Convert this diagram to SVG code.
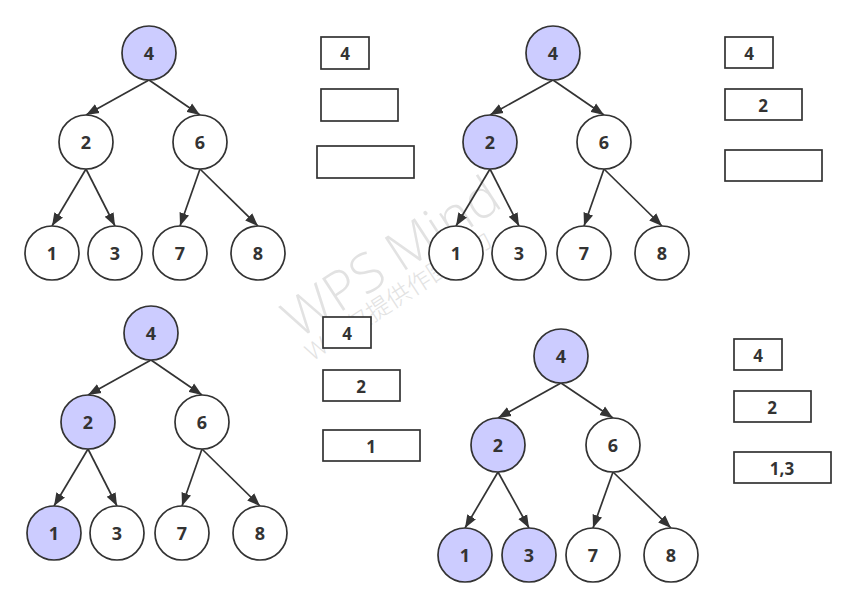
<svg xmlns="http://www.w3.org/2000/svg" width="856" height="608" viewBox="0 0 856 608">
<style>
.n circle{fill:#ffffff;stroke:#333333;stroke-width:1.7}
.n.h circle{fill:#ccccff}
.n text,.b text{font-family:"Open Sans","Noto Sans","Liberation Sans",sans-serif;font-weight:bold;font-size:18px;fill:#333333;text-anchor:middle;dominant-baseline:central}
.b rect{fill:#ffffff;stroke:#333333;stroke-width:1.7}
.b text{font-size:17px}
.e line{stroke:#333333;stroke-width:1.7;marker-end:url(#ah)}
.wm{font-family:"Open Sans","Noto Sans CJK SC",sans-serif;font-weight:300;fill:#e2e2e2}
</style>
<defs>
<marker id="ah" markerUnits="userSpaceOnUse" markerWidth="14" markerHeight="11" refX="13" refY="5" orient="auto" viewBox="0 0 14 10">
<path d="M0,0 L13,5 L0,10 z" fill="#333333"/>
</marker>
</defs>
<rect width="856" height="608" fill="#ffffff"/>
<g id="watermark" transform="translate(298,340) rotate(-33)">
<text class="wm" x="0" y="0" font-size="54">WPS Mind</text>
<text class="wm" x="0" y="26" font-size="24">WPS仅提供作图能力</text>
</g>
<g id="connectors" class="e">
<line x1="149" y1="80" x2="86" y2="115"/>
<line x1="149" y1="80" x2="200" y2="115"/>
<line x1="86" y1="169" x2="52" y2="226"/>
<line x1="86" y1="169" x2="115" y2="226"/>
<line x1="200" y1="169" x2="180" y2="226"/>
<line x1="200" y1="169" x2="258" y2="226"/>
<line x1="553" y1="80" x2="490" y2="115"/>
<line x1="553" y1="80" x2="604" y2="115"/>
<line x1="490" y1="169" x2="456" y2="226"/>
<line x1="490" y1="169" x2="519" y2="226"/>
<line x1="604" y1="169" x2="584" y2="226"/>
<line x1="604" y1="169" x2="662" y2="226"/>
<line x1="151" y1="360" x2="88" y2="395"/>
<line x1="151" y1="360" x2="202" y2="395"/>
<line x1="88" y1="449" x2="54" y2="506"/>
<line x1="88" y1="449" x2="117" y2="506"/>
<line x1="202" y1="449" x2="182" y2="506"/>
<line x1="202" y1="449" x2="260" y2="506"/>
<line x1="561" y1="383" x2="498" y2="418"/>
<line x1="561" y1="383" x2="613" y2="418"/>
<line x1="498" y1="472" x2="465" y2="528"/>
<line x1="498" y1="472" x2="529" y2="528"/>
<line x1="613" y1="472" x2="593" y2="528"/>
<line x1="613" y1="472" x2="671" y2="528"/>
</g>
<g id="t1n4" class="n h"><circle cx="149" cy="53" r="27"/><text x="149" y="53">4</text></g>
<g id="t1n2" class="n"><circle cx="86" cy="142" r="27"/><text x="86" y="142">2</text></g>
<g id="t1n6" class="n"><circle cx="200" cy="142" r="27"/><text x="200" y="142">6</text></g>
<g id="t1n1" class="n"><circle cx="52" cy="253" r="27"/><text x="52" y="253">1</text></g>
<g id="t1n3" class="n"><circle cx="115" cy="253" r="27"/><text x="115" y="253">3</text></g>
<g id="t1n7" class="n"><circle cx="180" cy="253" r="27"/><text x="180" y="253">7</text></g>
<g id="t1n8" class="n"><circle cx="258" cy="253" r="27"/><text x="258" y="253">8</text></g>
<g id="t2n4" class="n h"><circle cx="553" cy="53" r="27"/><text x="553" y="53">4</text></g>
<g id="t2n2" class="n h"><circle cx="490" cy="142" r="27"/><text x="490" y="142">2</text></g>
<g id="t2n6" class="n"><circle cx="604" cy="142" r="27"/><text x="604" y="142">6</text></g>
<g id="t2n1" class="n"><circle cx="456" cy="253" r="27"/><text x="456" y="253">1</text></g>
<g id="t2n3" class="n"><circle cx="519" cy="253" r="27"/><text x="519" y="253">3</text></g>
<g id="t2n7" class="n"><circle cx="584" cy="253" r="27"/><text x="584" y="253">7</text></g>
<g id="t2n8" class="n"><circle cx="662" cy="253" r="27"/><text x="662" y="253">8</text></g>
<g id="t3n4" class="n h"><circle cx="151" cy="333" r="27"/><text x="151" y="333">4</text></g>
<g id="t3n2" class="n h"><circle cx="88" cy="422" r="27"/><text x="88" y="422">2</text></g>
<g id="t3n6" class="n"><circle cx="202" cy="422" r="27"/><text x="202" y="422">6</text></g>
<g id="t3n1" class="n h"><circle cx="54" cy="533" r="27"/><text x="54" y="533">1</text></g>
<g id="t3n3" class="n"><circle cx="117" cy="533" r="27"/><text x="117" y="533">3</text></g>
<g id="t3n7" class="n"><circle cx="182" cy="533" r="27"/><text x="182" y="533">7</text></g>
<g id="t3n8" class="n"><circle cx="260" cy="533" r="27"/><text x="260" y="533">8</text></g>
<g id="t4n4" class="n h"><circle cx="561" cy="356" r="27"/><text x="561" y="356">4</text></g>
<g id="t4n2" class="n h"><circle cx="498" cy="445" r="27"/><text x="498" y="445">2</text></g>
<g id="t4n6" class="n"><circle cx="613" cy="445" r="27"/><text x="613" y="445">6</text></g>
<g id="t4n1" class="n h"><circle cx="465" cy="555" r="27"/><text x="465" y="555">1</text></g>
<g id="t4n3" class="n h"><circle cx="529" cy="555" r="27"/><text x="529" y="555">3</text></g>
<g id="t4n7" class="n"><circle cx="593" cy="555" r="27"/><text x="593" y="555">7</text></g>
<g id="t4n8" class="n"><circle cx="671" cy="555" r="27"/><text x="671" y="555">8</text></g>
<g id="b1a" class="b"><rect x="321" y="37" width="48" height="32"/><text x="345" y="53">4</text></g>
<g id="b1b" class="b"><rect x="321" y="89" width="77" height="32"/></g>
<g id="b1c" class="b"><rect x="317" y="146" width="97" height="32"/></g>
<g id="b2a" class="b"><rect x="725" y="37" width="48" height="31"/><text x="749" y="53">4</text></g>
<g id="b2b" class="b"><rect x="725" y="89" width="77" height="31"/><text x="763" y="105">2</text></g>
<g id="b2c" class="b"><rect x="725" y="150" width="97" height="31"/></g>
<g id="b3a" class="b"><rect x="323" y="317" width="48" height="31"/><text x="347" y="333">4</text></g>
<g id="b3b" class="b"><rect x="323" y="370" width="77" height="31"/><text x="361" y="386">2</text></g>
<g id="b3c" class="b"><rect x="323" y="430" width="97" height="31"/><text x="371" y="446">1</text></g>
<g id="b4a" class="b"><rect x="734" y="339" width="48" height="31"/><text x="758" y="355">4</text></g>
<g id="b4b" class="b"><rect x="734" y="391" width="77" height="31"/><text x="772" y="407">2</text></g>
<g id="b4c" class="b"><rect x="734" y="452" width="97" height="31"/><text x="782" y="468">1,3</text></g>
</svg>
